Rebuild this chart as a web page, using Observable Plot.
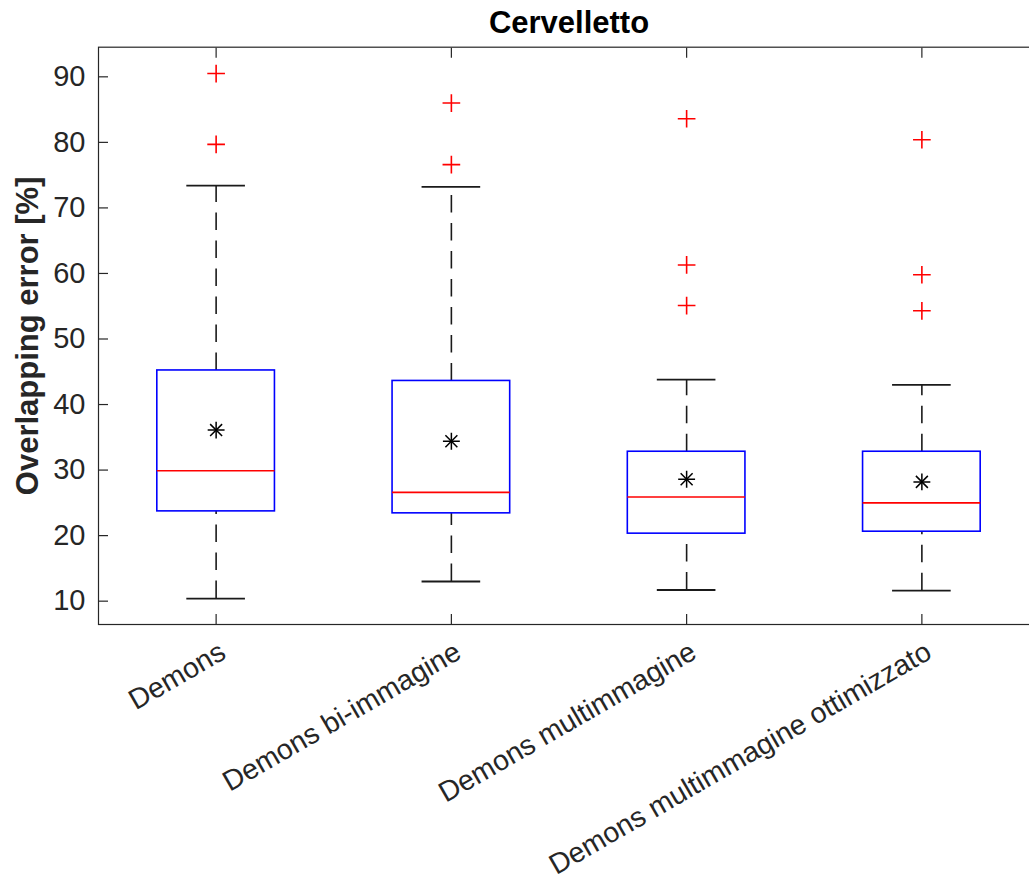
<!DOCTYPE html>
<html>
<head>
<meta charset="utf-8">
<script src="https://cdn.jsdelivr.net/npm/d3@7"></script>
<script src="https://cdn.jsdelivr.net/npm/@observablehq/plot@0.6"></script>
<style>
  html, body { margin: 0; padding: 0; background: #fff; overflow: hidden; }
  #chart svg { display: block; max-width: none !important; height: 883px !important; }
</style>
</head>
<body>
<div id="chart"></div>
<script>
const title = "Cervelletto";
const yLabel = "Overlapping error [%]";
const categories = ["Demons", "Demons bi-immagine", "Demons multimmagine", "Demons multimmagine ottimizzato"];
const whiskerLow = [10.4, 13.0, 11.7, 11.6];
const q1 = [23.7, 23.4, 20.3, 20.6];
const median = [29.9, 26.6, 25.9, 25.0];
const q3 = [45.2, 43.6, 32.8, 32.8];
const whiskerHigh = [73.4, 73.2, 43.8, 43.0];
const means = [36.1, 34.4, 28.6, 28.2];
const outlierGroup = [0, 0, 1, 1, 2, 2, 2, 3, 3, 3];
const outlierValue = [90.5, 79.7, 86.0, 76.6, 83.6, 61.3, 55.1, 80.4, 59.8, 54.3];
const yTicks = [10, 20, 30, 40, 50, 60, 70, 80, 90];

const boxes = categories.map((c, i) => ({
  category: c, lo: whiskerLow[i], q1: q1[i], median: median[i], q3: q3[i], hi: whiskerHigh[i], mean: means[i]
}));
const outliers = outlierValue.map((v, i) => ({category: categories[outlierGroup[i]], value: v}));

const font = "'Liberation Sans', Arial, Helvetica, sans-serif";
const axisColor = "#262626";
const whiskerColor = "#1a1a1a";

const chart = Plot.plot({
  width: 1040,
  height: 883,
  marginLeft: 98,
  marginRight: 1,
  marginTop: 46.7,
  marginBottom: 259,
  style: {fontFamily: font, background: "#fff", color: axisColor, overflow: "visible"},
  x: {type: "band", domain: categories, paddingInner: 0.5, paddingOuter: 0.25, round: false, axis: null},
  y: {domain: [6.44, 94.52], axis: null},
  marks: [
    // whiskers
    Plot.ruleX(boxes, {x: "category", y1: "q3", y2: "hi", stroke: whiskerColor, strokeWidth: 1.6, strokeDasharray: "17.5,10.5"}),
    Plot.ruleX(boxes, {x: "category", y1: "lo", y2: "q1", stroke: whiskerColor, strokeWidth: 1.6, strokeDasharray: "17.5,10.5"}),
    Plot.tickY(boxes, {x: "category", y: "hi", stroke: whiskerColor, strokeWidth: 1.8, insetLeft: 29.5, insetRight: 29.5}),
    Plot.tickY(boxes, {x: "category", y: "lo", stroke: whiskerColor, strokeWidth: 1.8, insetLeft: 29.5, insetRight: 29.5}),
    // boxes
    Plot.barY(boxes, {x: "category", y1: "q1", y2: "q3", fill: "#fff", stroke: "#0000ff", strokeWidth: 1.6}),
    Plot.tickY(boxes, {x: "category", y: "median", stroke: "#ff0000", strokeWidth: 1.6}),
    // means
    Plot.dot(boxes, {x: "category", y: "mean", symbol: "plus", r: 5.5, stroke: "#000", strokeWidth: 1.5}),
    Plot.dot(boxes, {x: "category", y: "mean", symbol: "times", r: 5.5, stroke: "#000", strokeWidth: 1.5}),
    // outliers
    Plot.dot(outliers, {x: "category", y: "value", symbol: "plus", r: 5.75, stroke: "#ff0000", strokeWidth: 1.6}),
    // axes
    Plot.frame({stroke: axisColor, strokeWidth: 1.2}),
    Plot.axisY(yTicks, {anchor: "left", tickSize: -10, tickPadding: 23, fontSize: 29, label: null, stroke: axisColor, strokeWidth: 1.2}),
    Plot.axisY(yTicks, {anchor: "right", tickSize: -10, tickFormat: () => "", label: null, stroke: axisColor, strokeWidth: 1.2}),
    Plot.axisX(categories, {anchor: "top", tickSize: -10, tickFormat: () => "", label: null, stroke: axisColor, strokeWidth: 1.2}),
    Plot.axisX(categories, {anchor: "bottom", tickSize: -10, tickFormat: () => "", label: null, stroke: axisColor, strokeWidth: 1.2}),
    // category labels
    Plot.text(categories, {x: d => d, frameAnchor: "bottom", dx: 7, dy: 25, rotate: -30, textAnchor: "end", lineAnchor: "middle", fontSize: 28.5, fill: axisColor}),
    // y label
    Plot.text([yLabel], {frameAnchor: "left", dx: -70, rotate: -90, textAnchor: "middle", lineAnchor: "middle", fontSize: 31, fontWeight: "bold", fill: axisColor}),
    // title
    Plot.text([title], {frameAnchor: "top", dy: -14, textAnchor: "middle", lineAnchor: "bottom", fontSize: 31, fontWeight: "bold", fill: "#000"})
  ]
});
document.getElementById("chart").appendChild(chart);
</script>
</body>
</html>
